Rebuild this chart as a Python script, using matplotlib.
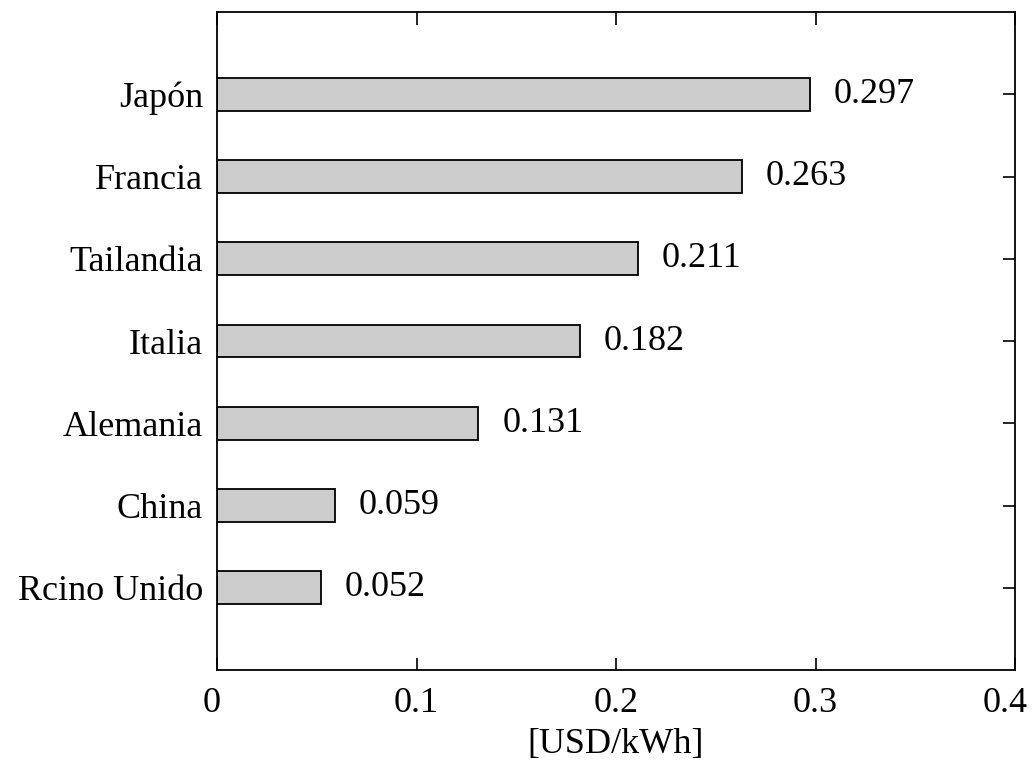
import matplotlib
matplotlib.use("Agg")
import matplotlib.pyplot as plt
from matplotlib.transforms import ScaledTranslation

countries = ["Japón", "Francia", "Tailandia", "Italia", "Alemania", "China", "Rcino Unido"]
values = [0.297, 0.263, 0.211, 0.182, 0.131, 0.059, 0.052]
xticks = [0, 0.1, 0.2, 0.3, 0.4]
xtick_labels = ["0", "0.1", "0.2", "0.3", "0.4"]

plt.rcParams['font.family'] = ['Liberation Serif', 'DejaVu Serif']

fig = plt.figure(figsize=(10.32, 7.69), dpi=100)
ax = fig.add_axes([217/1032, 1 - 670/769, (1015-217)/1032, (670-12)/769])

ypos = list(range(len(countries), 0, -1))
ax.barh(ypos, values, height=0.4, color="#cccccc", edgecolor="black", linewidth=1.3)
for y, v in zip(ypos, values):
    ax.text(v + 0.012, y, f"{v:.3f}", va="center", ha="left", fontsize=26)

ax.set_xlim(0, 0.4)
ax.set_ylim(0, len(countries) + 1)
ax.set_xticks(xticks)
ax.set_xticklabels(xtick_labels)
ax.set_yticks(ypos)
ax.set_yticklabels(countries)
ax.tick_params(axis="both", direction="in", length=9, width=1.2, labelsize=26,
               top=True, right=True)
ax.tick_params(axis="y", left=False, pad=10)
ax.tick_params(axis="x", pad=12)
ax.set_xlabel("[USD/kWh]", fontsize=26, labelpad=6)
for s in ax.spines.values():
    s.set_linewidth(1.3)

labels = ax.get_xticklabels()
labels[0].set_transform(labels[0].get_transform() + ScaledTranslation(-5/100, 0, fig.dpi_scale_trans))
labels[-1].set_transform(labels[-1].get_transform() + ScaledTranslation(-10/100, 0, fig.dpi_scale_trans))

fig.savefig("out.png", dpi=100)
